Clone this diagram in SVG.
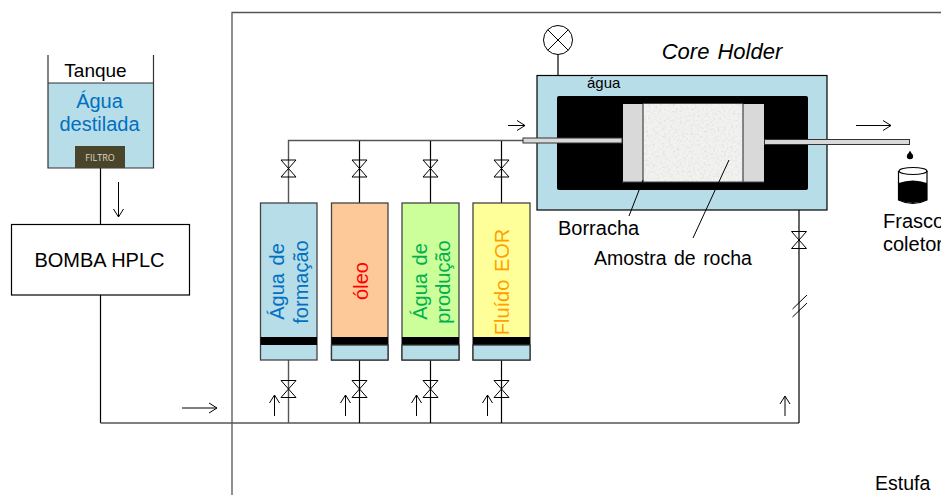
<svg xmlns="http://www.w3.org/2000/svg" width="941" height="495" viewBox="0 0 941 495">
<style>
text{font-family:"Liberation Sans",Arial,sans-serif;fill:#000}
.l{fill:none;stroke:#000;stroke-width:1.2}
.g{fill:none;stroke:#555;stroke-width:1.4}
.a{fill:none;stroke:#000;stroke-width:1}
.cyl{stroke:#444;stroke-width:1.3}
.m{text-anchor:middle}
.v{fill:none;stroke:#000;stroke-width:1}
.t{font-size:20px;text-anchor:middle}
</style>
<defs>
<marker id="h" markerUnits="userSpaceOnUse" markerWidth="12" markerHeight="12" refX="9" refY="6" orient="auto"><path d="M1 1L9 6L1 11" fill="none" stroke="#000" stroke-width="1"/></marker>
<filter id="speck" x="0" y="0" width="100%" height="100%"><feTurbulence type="fractalNoise" baseFrequency="0.45" numOctaves="3" seed="4"/><feColorMatrix type="matrix" values="0 0 0 0 0.68 0 0 0 0 0.68 0 0 0 0 0.68 1.6 0 0 0 -0.72"/><feComposite in2="SourceGraphic" operator="over"/></filter>
<path id="valve" class="v" d="M-7.500 -8.500H7.500L-7.500 8.500H7.500Z"/>
</defs>

<g id="estufa"><path d="M232 495V12.500H941" fill="none" stroke="#555" stroke-width="1.300"/><text x="875" y="490" font-size="20" style="font-size:19.500px">Estufa</text></g>

<g id="connectors">
<path class="l" d="M100.500 168V224.500M100.500 295V423"/>
<path class="g" d="M100.500 423H799"/>
<path class="l" d="M799 210V423"/>
<path class="g" d="M288.500 203V140.500H523"/>
<path class="l" d="M359.500 141V203M430.500 141V203M501.500 141V203M359.500 360V423M430.500 360V423M501.500 360V423"/>
<path class="g" d="M288.500 360V423"/>
<path class="l" d="M558 54.500V75"/>
<path class="a" d="M118.500 182V217" marker-end="url(#h)"/>
<path class="a" d="M182 408H217" marker-end="url(#h)"/>
<path class="a" d="M508 125.500H525" marker-end="url(#h)"/>
<path class="a" d="M856 125.500H891" marker-end="url(#h)"/>
<path class="a" d="M274.500 416V395" marker-end="url(#h)"/>
<path class="a" d="M345.500 416V395" marker-end="url(#h)"/>
<path class="a" d="M416.500 416V395" marker-end="url(#h)"/>
<path class="a" d="M487.500 416V395" marker-end="url(#h)"/>
<path class="a" d="M785 416V396" marker-end="url(#h)"/>
<path class="a" d="M792.500 309L807 295M792.500 317L807 303"/>
</g>

<g id="valves">
<use href="#valve" x="288.500" y="168.500"/><use href="#valve" x="359.500" y="168.500"/><use href="#valve" x="430.500" y="168.500"/><use href="#valve" x="501.500" y="168.500"/>
<use href="#valve" x="288.500" y="389"/><use href="#valve" x="359.500" y="389"/><use href="#valve" x="430.500" y="389"/><use href="#valve" x="501.500" y="389"/>
<use href="#valve" x="799" y="240"/>
</g>

<g id="tanque">
<rect x="48" y="83" width="105.500" height="85" fill="#b7dde8"/>
<path d="M48 55V168H153.500V55M48 83H153.500" fill="none" stroke="#333" stroke-width="1.200"/>
<rect x="75" y="146" width="50" height="22" fill="#4a452a"/>
<text x="95.500" y="77" class="t" style="font-size:19px">Tanque</text>
<text x="99.500" y="108" class="t" style="fill:#0070c0">Água</text>
<text x="99.500" y="131" class="t" style="fill:#0070c0">destilada</text>
<text x="100" y="161" class="m" style="font-size:9px;fill:#ddd9c3;font-family:'Open Sans',sans-serif">FILTRO</text>
</g>

<g id="bomba"><rect x="11.500" y="224.500" width="178" height="70.500" fill="#fff" stroke="#000" stroke-width="1.200"/><text x="99.500" y="267" class="t">BOMBA HPLC</text></g>

<g id="agua-formacao">
<rect class="cyl" x="260.500" y="203" width="56.500" height="157" fill="#b7dde8"/>
<rect x="260.500" y="337" width="56.500" height="8" fill="#000"/>
<text transform="translate(284,281.500) rotate(-90)" class="t" style="fill:#0070c0;word-spacing:2px">Água de</text>
<text transform="translate(308,282) rotate(-90)" class="t" style="fill:#0070c0">formação</text>
</g>
<g id="oleo">
<rect class="cyl" x="331.500" y="203" width="56.500" height="157" fill="#fdc999"/>
<rect x="331.500" y="337" width="56.500" height="8" fill="#000"/>
<rect x="331.500" y="345" width="56.500" height="15" fill="#b7dde8" stroke="#333" stroke-width="1.300"/>
<text transform="translate(367.500,281) rotate(-90)" class="t" style="fill:#ff0000">óleo</text>
</g>
<g id="agua-producao">
<rect class="cyl" x="402" y="203" width="57" height="157" fill="#ccff99"/>
<rect x="402" y="337" width="57" height="8" fill="#000"/>
<rect x="402" y="345" width="57" height="15" fill="#b7dde8" stroke="#333" stroke-width="1.300"/>
<text transform="translate(426.500,281.500) rotate(-90)" class="t" style="fill:#00b050;word-spacing:2px">Água de</text>
<text transform="translate(450,282) rotate(-90)" class="t" style="fill:#00b050">produção</text>
</g>
<g id="fluido-eor">
<rect class="cyl" x="473" y="203" width="57" height="157" fill="#ffff99"/>
<rect x="473" y="337" width="57" height="8" fill="#000"/>
<rect x="473" y="345" width="57" height="15" fill="#b7dde8" stroke="#333" stroke-width="1.300"/>
<text transform="translate(509,282) rotate(-90)" class="t" style="fill:#ffa000;word-spacing:2px">Fluído EOR</text>
</g>

<g id="manometro"><circle cx="558" cy="40" r="14.500" fill="#fff" stroke="#000" stroke-width="1"/><path class="a" d="M547.700 29.700L568.300 50.300M568.300 29.700L547.700 50.300"/></g>

<g id="core-holder">
<text x="722" y="59" class="m" style="font-size:22px;font-style:italic;word-spacing:2px">Core Holder</text>
<rect x="537" y="75.500" width="290" height="134.500" fill="#b7dde8" stroke="#000" stroke-width="1.200"/>
<rect x="557" y="96" width="251" height="94" rx="2" fill="#000"/>
<text x="587" y="88" style="font-size:15px">água</text>
<rect x="623" y="104" width="20" height="78" fill="#d9d9d9"/>
<rect x="743" y="104" width="21" height="78" fill="#d9d9d9"/>
<rect x="643" y="104" width="100" height="78" fill="#f2f2f0" filter="url(#speck)"/>
<path d="M643 104V182M743 104V182M643 103.500H743" stroke="#444" stroke-width="1.200" fill="none"/>
<path d="M622 182H764" stroke="#444" stroke-width="1.200"/>
<rect x="523" y="138" width="99" height="5" fill="#d9d9d9" stroke="#333" stroke-width="1"/>
<rect x="764.500" y="139.500" width="145" height="5" fill="#d9d9d9" stroke="#333" stroke-width="1"/>
</g>

<g id="borracha"><path class="a" d="M643 180L629 216"/><text x="558" y="235" style="font-size:20px">Borracha</text></g>
<g id="amostra"><path class="a" d="M729 160L693 238"/><text x="594" y="265" style="font-size:19.500px;word-spacing:2px">Amostra de rocha</text></g>

<g id="frasco">
<path d="M910 150.500C909 153 906.800 154.500 906.800 156A3.200 3.200 0 0 0 913.200 156C913.200 154.500 911 153 910 150.500Z" fill="#000"/>
<path d="M898.500 171V200Q913 207 927 200V171" fill="none" stroke="#000" stroke-width="1.200"/>
<path d="M898.500 183Q913 178 927 183V200Q913 206 898.500 200Z" fill="#000"/>
<ellipse cx="913" cy="171" rx="14" ry="3.500" fill="#fff" fill-opacity="0.600" stroke="#000" stroke-width="1.200"/>
<text x="883" y="228" style="font-size:20px">Frasco</text>
<text x="883" y="251" style="font-size:20px">coletor</text>
</g>
</svg>
